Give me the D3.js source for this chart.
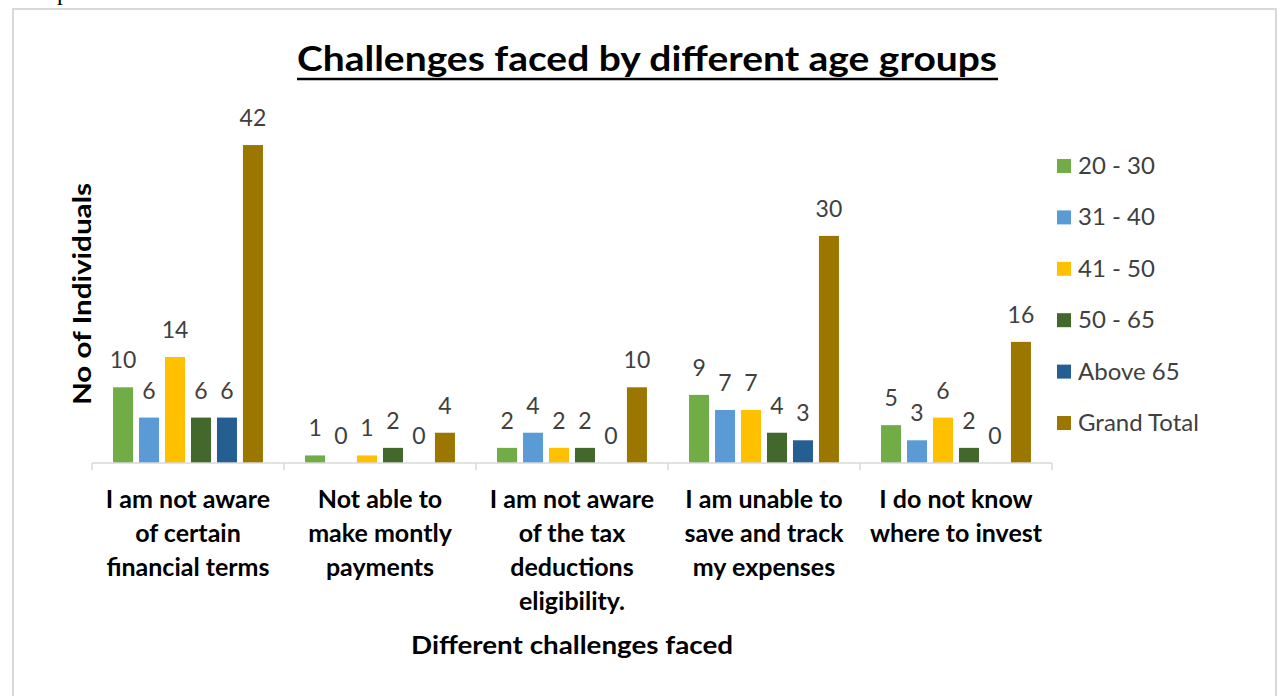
<!DOCTYPE html>
<html>
<head>
<meta charset="utf-8">
<script src="https://cdn.jsdelivr.net/npm/d3@7"></script>
<style>
  html, body { margin: 0; padding: 0; background: #fff; }
  svg { display: block; font-family: Lato, "Open Sans", sans-serif; }
</style>
</head>
<body>
<svg id="chart" width="1280" height="696"></svg>
<script>
// Challenges faced, counted per age group
const categories = [
  ["I am not aware", "of certain", "financial terms"],
  ["Not able to", "make montly", "payments"],
  ["I am not aware", "of the tax", "deductions", "eligibility."],
  ["I am unable to", "save and track", "my expenses"],
  ["I do not know", "where to invest"]
];
const seriesNames = ["20 - 30", "31 - 40", "41 - 50", "50 - 65", "Above 65", "Grand Total"];
const age20to30   = [10, 1, 2, 9, 5];
const age31to40   = [6, 0, 4, 7, 3];
const age41to50   = [14, 1, 2, 7, 6];
const age50to65   = [6, 2, 2, 4, 2];
const ageAbove65  = [6, 0, 0, 3, 0];
const grandTotal  = [42, 4, 10, 30, 16];
const seriesValues = [age20to30, age31to40, age41to50, age50to65, ageAbove65, grandTotal];
const colors = ["#70AD47", "#5B9BD5", "#FFC000", "#43682B", "#255E91", "#9C7700"];

const svg = d3.select("#chart");

// frame around the chart
svg.append("rect")
  .attr("x", 13).attr("y", 9).attr("width", 1263).attr("height", 700)
  .attr("fill", "none").attr("stroke", "#D9D9D9").attr("stroke-width", 2);

// caption line above the frame, running off the top of the page
svg.append("text")
  .attr("x", 21).attr("y", -0.5)
  .attr("font-family", "Liberation Serif, serif").attr("font-size", 24)
  .attr("fill", "#000").text("Graph 1:");

const plot = { left: 92, right: 1052, base: 463 };

const x0 = d3.scaleBand()
  .domain(d3.range(categories.length))
  .range([plot.left, plot.right])
  .padding(0);

const x1 = d3.scaleBand()
  .domain(d3.range(seriesNames.length))
  .range([0, x0.bandwidth()])
  .paddingInner(0.23)
  .paddingOuter(0.81);

const y = d3.scaleLinear()
  .domain([0, 45])
  .range([plot.base, plot.base - 45 * 7.57]);

// bars
const groups = svg.append("g").selectAll("g")
  .data(categories)
  .join("g")
  .attr("transform", (d, i) => `translate(${x0(i)},0)`);

groups.selectAll("rect")
  .data((d, i) => seriesValues.map((vals, s) => ({ s, v: vals[i] })))
  .join("rect")
  .attr("x", d => x1(d.s))
  .attr("width", x1.bandwidth())
  .attr("y", d => y(d.v))
  .attr("height", d => y(0) - y(d.v))
  .attr("fill", d => colors[d.s]);

groups.selectAll("text")
  .data((d, i) => seriesValues.map((vals, s) => ({ s, v: vals[i] })))
  .join("text")
  .attr("x", d => x1(d.s) + x1.bandwidth() / 2)
  .attr("y", d => y(d.v) - 19)
  .attr("text-anchor", "middle")
  .attr("font-size", 23)
  .attr("fill", "#404040")
  .text(d => d.v);

// category axis
const axis = svg.append("g").attr("transform", `translate(0,${plot.base})`);
axis.append("line")
  .attr("x1", plot.left).attr("x2", plot.right)
  .attr("stroke", "#D9D9D9").attr("stroke-width", 1.5);
axis.selectAll("line.tick")
  .data(d3.range(categories.length + 1))
  .join("line")
  .attr("class", "tick")
  .attr("x1", i => plot.left + i * x0.step())
  .attr("x2", i => plot.left + i * x0.step())
  .attr("y1", 0).attr("y2", 7)
  .attr("stroke", "#D9D9D9").attr("stroke-width", 1.5);

const catLabels = svg.append("g").selectAll("text")
  .data(categories)
  .join("text")
  .attr("x", (d, i) => x0(i) + x0.bandwidth() / 2)
  .attr("y", 508)
  .attr("text-anchor", "middle")
  .attr("font-size", 25)
  .attr("font-weight", "bold")
  .attr("fill", "#000");
catLabels.selectAll("tspan")
  .data(d => d)
  .join("tspan")
  .attr("x", function () { return this.parentNode.getAttribute("x"); })
  .attr("dy", (d, i) => i === 0 ? 0 : 34)
  .text(d => d);

// titles
svg.append("text")
  .attr("x", 647).attr("y", 71)
  .attr("text-anchor", "middle")
  .attr("font-size", 34).attr("font-weight", "bold")
  .attr("textLength", 700).attr("lengthAdjust", "spacingAndGlyphs")
  .attr("fill", "#000")
  .text("Challenges faced by different age groups");
svg.append("line")
  .attr("x1", 297).attr("x2", 998).attr("y1", 79).attr("y2", 79)
  .attr("stroke", "#000").attr("stroke-width", 2.5);

svg.append("text")
  .attr("transform", "translate(91,294) rotate(-90)")
  .attr("text-anchor", "middle")
  .attr("font-size", 25).attr("font-weight", "bold")
  .attr("textLength", 222).attr("lengthAdjust", "spacingAndGlyphs")
  .attr("fill", "#000")
  .text("No of Individuals");

svg.append("text")
  .attr("x", 572).attr("y", 654)
  .attr("text-anchor", "middle")
  .attr("font-size", 24).attr("font-weight", "bold")
  .attr("textLength", 322).attr("lengthAdjust", "spacingAndGlyphs")
  .attr("fill", "#000")
  .text("Different challenges faced");

// legend
const legend = svg.append("g").selectAll("g")
  .data(seriesNames)
  .join("g")
  .attr("transform", (d, i) => `translate(1057,${166 + i * 51.4})`);
legend.append("rect")
  .attr("x", 0).attr("y", -7).attr("width", 14).attr("height", 14)
  .attr("fill", (d, i) => colors[i]);
legend.append("text")
  .attr("x", 21).attr("y", 8)
  .attr("font-size", 24)
  .attr("fill", "#404040")
  .text(d => d);
</script>
</body>
</html>
